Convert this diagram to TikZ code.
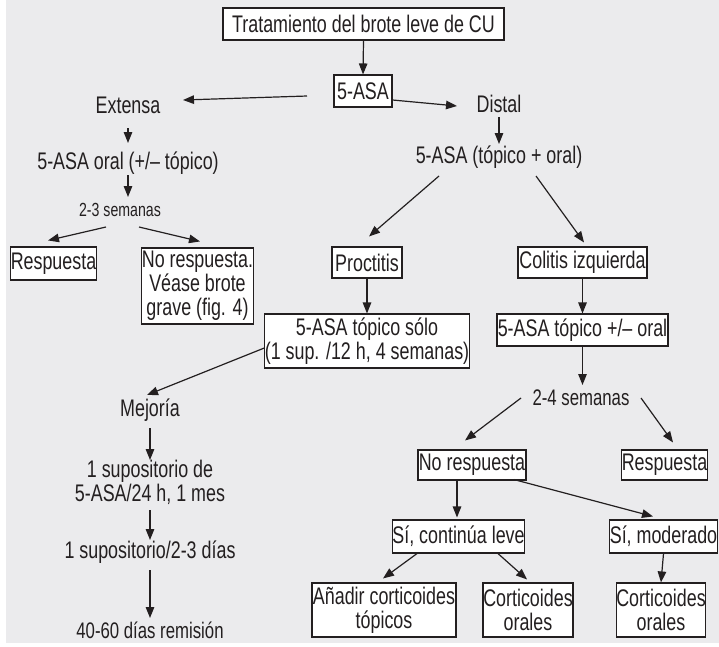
\documentclass[tikz,border=0pt]{standalone}
\usepackage{fontspec}
\setmainfont{Liberation Sans}[FakeStretch=0.745]
\usetikzlibrary{arrows.meta,calc}
\definecolor{bggray}{RGB}{235,235,237}
\definecolor{ink}{RGB}{35,31,32}
\begin{document}
\begin{tikzpicture}[x=1pt,y=-1pt,
  every node/.style={font=\fontsize{24}{24}\selectfont, text=ink, align=center, inner sep=0pt},
  box/.style={draw=ink, fill=white, line width=1.1pt},
  small/.style={font=\fontsize{19}{19}\selectfont},
  mid/.style={font=\fontsize{22.5}{22.5}\selectfont},
  arr/.style={draw=ink, line width=1.2pt, -{Triangle[length=11pt,width=8.5pt]}}]
% page and grey panel
\useasboundingbox (0,0) rectangle (719,646);
\fill[bggray] (6,0) rectangle (719,643);

% top of the tree
\node[box, minimum width=281pt, minimum height=32pt] (title) at (363.5,24) {Tratamiento del brote leve de CU};
\node[box, minimum width=58pt, minimum height=32pt] (asa) at (363,91) {5-ASA};
\node (extensa) at (128,105) {Extensa};
\node (distal) at (499,104) {Distal};

% extensive branch
\node (oral) at (128,163) {5-ASA oral (+/– tópico)};
\node[small] (sem23) at (120,210) {2-3 semanas};
\node[box, minimum width=83pt, minimum height=33pt] (resp1) at (53.5,263.5) {Respuesta};
\node[box, minimum width=109pt, minimum height=76pt] (nores1) at (197.5,286) {No respuesta.\\Véase brote\\grave (fig. 4)};

% distal branch
\node (toporal) at (499,157) {5-ASA (tópico + oral)};
\node[box, minimum width=70pt, minimum height=31pt] (proct) at (367,262.5) {Proctitis};
\node[box, minimum width=129pt, minimum height=31pt] (colitis) at (582.5,262.5) {Colitis izquierda};
\node[box, minimum width=200pt, minimum height=54pt] (topsolo) at (367,341) {5-ASA tópico sólo\\(1 sup. /12 h, 4 semanas)};
\node[box, minimum width=171pt, minimum height=32pt] (toporal2) at (582.5,330) {5-ASA tópico +/– oral};

% proctitis follow-up
\node (mejoria) at (150,410) {Mejoría};
\node (sup1) at (150,482) {1 supositorio de\\5-ASA/24 h, 1 mes};
\node (sup2) at (150,552) {1 supositorio/2-3 días};
\node[mid] (rem) at (150,630) {40-60 días remisión};

% left colitis follow-up
\node[mid] (sem24) at (581,398) {2-4 semanas};
\node[box, minimum width=108pt, minimum height=30pt] (nores2) at (472,465) {No respuesta};
\node[box, minimum width=81pt, minimum height=30pt] (resp2) at (664.5,465) {Respuesta};
\node[box, minimum width=127pt, minimum height=33pt] (sileve) at (458.5,536.5) {Sí, continúa leve};
\node[box, minimum width=107pt, minimum height=33pt] (simod) at (663.5,536.5) {Sí, moderado};
\node[box, minimum width=144pt, minimum height=54pt] (anadir) at (384,610) {Añadir corticoides\\tópicos};
\node[box, minimum width=90pt, minimum height=54pt] (cortm) at (528,610) {Corticoides\\orales};
\node[box, minimum width=88pt, minimum height=54pt] (cortr) at (661,610) {Corticoides\\orales};

% connectors
\draw[arr] (title.south) -- (asa.north);
\draw[arr] ($(asa)+(-56,5)$) -- ($(extensa)+(55,-5)$);
\draw[arr] ($(asa.east)+(0,9)$) -- ($(distal)+(-42,2)$);
\draw[arr] ($(extensa)+(0,23)$) -- ($(oral)+(0,-20)$);
\draw[arr] ($(oral)+(0,12)$) -- ($(sem23)+(8,-13)$);
\draw[arr] ($(sem23)+(-14,17)$) -- ($(resp1.north)+(-5.5,-6)$);
\draw[arr] ($(sem23)+(19,17)$) -- ($(nores1.north)+(2.5,-6)$);
\draw[arr] ($(distal)+(0,13)$) -- ($(toporal)+(0,-13)$);
\draw[arr] ($(toporal)+(-60,19)$) -- ($(proct.north)+(2,-10)$);
\draw[arr] ($(toporal)+(37,19)$) -- ($(colitis.north)+(1.5,-4)$);
\draw[arr] (proct.south) -- (topsolo.north);
\draw[arr] (colitis.south) -- (toporal2.north);
\draw[arr] ($(topsolo.west)+(0,7)$) -- ($(mejoria)+(-3,-15)$);
\draw[arr] (toporal2.south) -- ($(sem24)+(1.5,-13)$);
\draw[arr] ($(mejoria)+(0,18)$) -- ($(sup1)+(0,-22)$);
\draw[arr] ($(sup1)+(0,28)$) -- ($(sup2)+(0,-12)$);
\draw[arr] ($(sup2)+(0,18)$) -- ($(rem)+(0,-12)$);
\draw[arr] ($(sem24)+(-60,0)$) -- ($(nores2.north)+(-7,-9)$);
\draw[arr] ($(sem24)+(60,0)$) -- ($(resp2.north)+(8.5,-7)$);
\draw[arr] ($(nores2.south)+(-15,0)$) -- ($(sileve.north)+(-1.5,-2)$);
\draw[arr] ($(nores2.south)+(42,-1)$) -- ($(simod.north)+(-10.5,-3)$);
\draw[arr] ($(sileve.south)+(-41.5,0)$) -- ($(anadir.north)+(-1,-4)$);
\draw[arr] ($(sileve.south)+(39.5,0)$) -- ($(cortm.north)+(-1,-3)$);
\draw[arr] (simod.south) -- (cortr.north);
\end{tikzpicture}
\end{document}
